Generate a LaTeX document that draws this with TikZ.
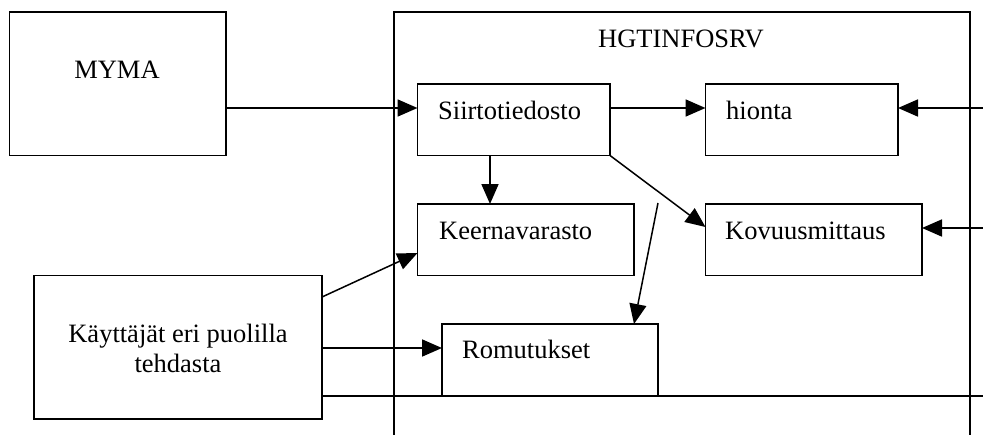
\documentclass[tikz,border=0pt]{standalone}
\usepackage{fontspec}
\setmainfont{Liberation Serif}
\usetikzlibrary{arrows.meta}
\begin{document}
\begin{tikzpicture}[x=1pt,y=-1pt,
  box/.style={draw, line width=1.8pt, inner sep=0pt, outer sep=0pt, anchor=north west},
  txt/.style={font=\fontsize{26.5}{30}\selectfont, inner sep=0pt},
  conn/.style={line width=1.8pt},
  arr/.style={conn, -{Triangle[length=20pt,width=17pt]}},
  slant/.style={line width=1.5pt, -{Triangle[length=20pt,width=17pt]}}]
\useasboundingbox (0,0) rectangle (983,434);
\clip (0,0) rectangle (983,434);
% container
\draw[conn] (394,440) -- (394,12) -- (970,12) -- (970,440);
\node[txt, anchor=base] (hgt) at (681,47) {HGTINFOSRV};
% boxes
\node[box, minimum width=216.5pt, minimum height=143.5pt] (myma) at (9.5,12) {};
\node[box, minimum width=288pt, minimum height=143.5pt] (kay) at (34,275.5) {};
\node[box, minimum width=192.5pt, minimum height=71.5pt] (sii) at (417.5,84) {};
\node[box, minimum width=192.5pt, minimum height=71.5pt] (hio) at (705.5,84) {};
\node[box, minimum width=216.5pt, minimum height=71.5pt] (keer) at (417.5,204) {};
\node[box, minimum width=216.5pt, minimum height=71.5pt] (kov) at (705.5,204) {};
\node[box, minimum width=216pt, minimum height=72pt] (rom) at (442,324) {};
% texts
\node[txt, anchor=base] (mymat) at (117,78) {MYMA};
\node[txt, anchor=base west] (siit) at (438,119) {Siirtotiedosto};
\node[txt, anchor=base west] (hiot) at (726,119) {hionta};
\node[txt, anchor=base west] (keert) at (439,239) {Keernavarasto};
\node[txt, anchor=base west] (kovt) at (725,239) {Kovuusmittaus};
\node[txt, anchor=base west] (romt) at (462,358) {Romutukset};
\node[txt, anchor=base] (kayt1) at (178,342) {Käyttäjät eri puolilla};
\node[txt, anchor=base] (kayt2) at (178,372) {tehdasta};
% free ends
\coordinate (in1) at (983,108);
\coordinate (in2) at (983,228);
\coordinate (out1) at (983,396);
\coordinate (r0) at (658,203);
% connectors
\draw[arr] (myma.east |- in1) -- (sii.west |- in1);
\draw[arr] (sii.east |- in1) -- (hio.west |- in1);
\draw[arr] (in1) -- (hio.east |- in1);
\draw[arr] (in2) -- (kov.east |- in2);
\draw[arr] (sii.south -| 490,0) -- (keer.north -| 490,0);
\draw[slant] (sii.south east) -- (kov.west |- 0,227);
\draw[slant] (r0) -- (rom.north -| 634,0);
\draw[slant] (kay.east |- 0,297) -- (keer.west |- 0,253);
\draw[arr] (kay.east |- 0,348) -- (rom.west |- 0,348);
\draw[conn] (kay.east |- out1) -- (out1);
\end{tikzpicture}
\end{document}
